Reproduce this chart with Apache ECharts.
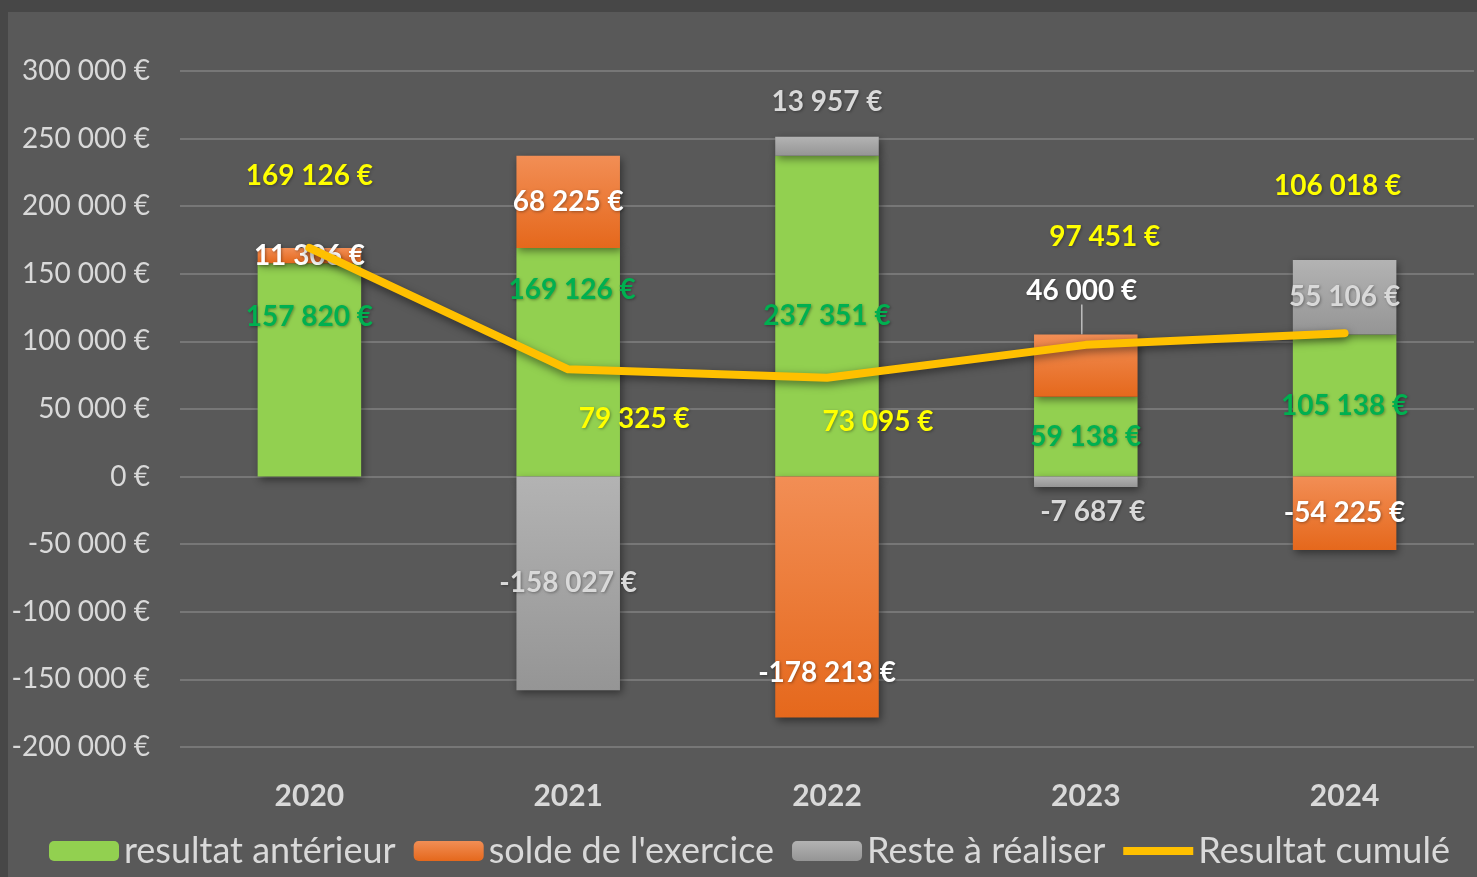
<!DOCTYPE html>
<html>
<head>
<meta charset="utf-8">
<script src="https://cdn.jsdelivr.net/npm/echarts@6/dist/echarts.min.js"></script>
<style>
html, body { margin: 0; padding: 0; background: #474747; overflow: hidden; }
#chart { position: absolute; left: 8px; top: 12px; width: 1469px; height: 865px; background: #595959; }
</style>
</head>
<body>
<div id="chart"></div>
<script>
// données
const years = ['2020', '2021', '2022', '2023', '2024']
const resultatAnterieur = [157820, 169126, 237351, 59138, 105138]
const soldeExercice = [11306, 68225, -178213, 46000, -54225]
const resteARealiser = [0, -158027, 13957, -7687, 55106]
const resultatCumule = [169126, 79325, 73095, 97451, 106018]

// décalage des étiquettes (px), comme dans le graphique Excel
const offGreen = [[0, -53], [4, -72], [0, 0], [0, 0], [0, 0]]
const offOrange = [[0, 0], [0, 0], [0, 76], [-4, -75], [0, 0]]
const offGray = [[0, 0], [0, 0], [0, -44], [7, 30], [0, 0]]
const offLine = [[0, -72], [66, 50], [51, 44], [19, -108], [-7, -147]]

const FONT = 'Lato'

function euro(v) {
    let s = String(Math.abs(v)).replace(/\B(?=(\d{3})+(?!\d))/g, ' ')
    return (v < 0 ? '-' : '') + s + ' €'
}

function items(values, offsets) {
    return values.map(function (v, i) {
        return { value: v, label: { offset: offsets[i] } }
    })
}

function grad(top, bottom) {
    return new echarts.graphic.LinearGradient(0, 0, 0, 1, [
        { offset: 0, color: top },
        { offset: 1, color: bottom }
    ])
}

const barShadow = {
    shadowBlur: 8,
    shadowColor: 'rgba(0,0,0,0.45)',
    shadowOffsetX: 2,
    shadowOffsetY: 3
}

function labelStyle(color) {
    return {
        show: true,
        position: 'inside',
        fontFamily: FONT,
        fontWeight: 'bold',
        fontSize: 28,
        color: color,
        textShadowColor: 'rgba(0,0,0,0.35)',
        textShadowBlur: 3,
        textShadowOffsetX: 1,
        textShadowOffsetY: 1,
        formatter: function (p) { return p.value === 0 ? '' : euro(p.value) }
    }
}

let orangeData = soldeExercice.map(function (v) { return { value: v } })
orangeData[3].labelLine = { show: true, lineStyle: { color: '#bfbfbf', width: 1.5 } }

const option = {
    backgroundColor: '#595959',
    animation: false,
    grid: { left: 172, right: 3, top: 59, bottom: 130 },
    legend: {
        left: 41,
        top: 821,
        padding: 0,
        itemWidth: 70,
        itemHeight: 20,
        itemGap: 18,
        textStyle: { color: '#d9d9d9', fontFamily: FONT, fontSize: 36 },
        data: [
            'resultat antérieur',
            "solde de l'exercice",
            'Reste à réaliser',
            {
                name: 'Resultat cumulé',
                icon: 'path://M0,0 L0,0 M0,6 L70,6 L70,14 L0,14 Z M0,20 L0,20',
                itemStyle: { color: '#ffc000' }
            }
        ]
    },
    xAxis: {
        type: 'category',
        data: years,
        axisLine: { show: false },
        axisTick: { show: false },
        axisLabel: { color: '#d9d9d9', fontFamily: FONT, fontWeight: 'bold', fontSize: 30, margin: 34 }
    },
    yAxis: {
        type: 'value',
        min: -200000,
        max: 300000,
        interval: 50000,
        axisLine: { show: false },
        axisTick: { show: false },
        splitLine: { lineStyle: { color: '#828282', width: 1.5 } },
        axisLabel: {
            color: '#d9d9d9', fontFamily: FONT, fontSize: 28, margin: 30,
            formatter: function (v) { return euro(v) }
        }
    },
    series: [
        {
            name: 'resultat antérieur',
            type: 'bar',
            stack: 'total',
            barWidth: '40%',
            itemStyle: Object.assign({ color: '#92d050' }, barShadow),
            label: labelStyle('#00b050'),
            data: items(resultatAnterieur, offGreen)
        },
        {
            name: "solde de l'exercice",
            type: 'bar',
            stack: 'total',
            itemStyle: Object.assign({ color: grad('#f28e55', '#e5681c') }, barShadow),
            label: labelStyle('#ffffff'),
            labelLayout: function (p) {
                return { dx: offOrange[p.dataIndex][0], dy: offOrange[p.dataIndex][1] }
            },
            data: orangeData
        },
        {
            name: 'Reste à réaliser',
            type: 'bar',
            stack: 'total',
            itemStyle: Object.assign({ color: grad('#b3b3b3', '#959595') }, barShadow),
            label: labelStyle('#d9d9d9'),
            data: items(resteARealiser, offGray)
        },
        {
            name: 'Resultat cumulé',
            type: 'line',
            symbol: 'circle',
            symbolSize: 0.1,
            itemStyle: { color: '#ffc000' },
            lineStyle: {
                color: '#ffc000', width: 8, cap: 'round', join: 'round',
                shadowBlur: 8, shadowColor: 'rgba(0,0,0,0.5)', shadowOffsetY: 3
            },
            label: labelStyle('#ffff00'),
            data: items(resultatCumule, offLine)
        }
    ]
}

const myChart = echarts.init(document.getElementById('chart'))
myChart.setOption(option)
</script>
</body>
</html>
